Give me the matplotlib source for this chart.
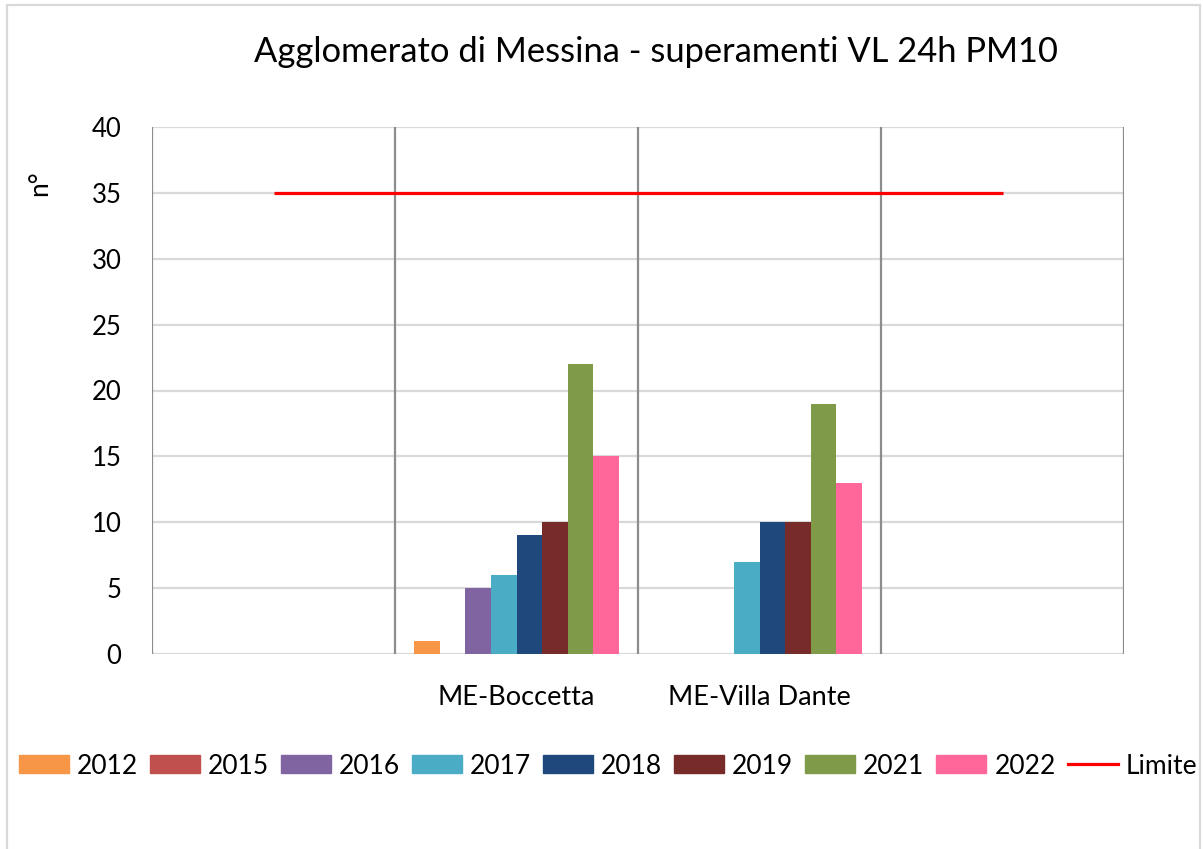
import matplotlib
matplotlib.use("Agg")
import matplotlib.pyplot as plt
import matplotlib.patches as mpatches
from matplotlib.lines import Line2D
import numpy as np

plt.rcParams['font.family'] = ['Lato', 'DejaVu Sans']

categories = ["", "ME-Boccetta", "ME-Villa Dante", ""]
years = ["2012", "2015", "2016", "2017", "2018", "2019", "2021", "2022"]
values = {
    "2012": [0, 1, 0, 0],
    "2015": [0, 0, 0, 0],
    "2016": [0, 5, 0, 0],
    "2017": [0, 6, 7, 0],
    "2018": [0, 9, 10, 0],
    "2019": [0, 10, 10, 0],
    "2021": [0, 22, 19, 0],
    "2022": [0, 15, 13, 0],
}
limite = [35, 35, 35, 35]
colors = ["#F79646", "#C0504D", "#8064A2", "#4BACC6", "#1F497D", "#772C2A", "#7F9A48", "#FF6699"]

W, H = 1203, 849
fig = plt.figure(figsize=(W / 100, H / 100), dpi=100)
ax = fig.add_axes([152 / W, 1 - 654 / H, (1124 - 152) / W, (654 - 127) / H])

x = np.arange(len(categories))
bw = 0.105
n = len(years)
for i, (yr, c) in enumerate(zip(years, colors)):
    off = (i - (n - 1) / 2) * bw
    ax.bar(x + off, values[yr], width=bw, color=c, zorder=3)
ax.plot(x, limite, color="#FF0000", lw=2.3, zorder=4, solid_capstyle='butt')

ax.set_xlim(-0.5, len(categories) - 0.5)
ax.set_ylim(0, 40)
ax.set_yticks(range(0, 41, 5))
ax.set_xticks(x)
ax.set_xticklabels(categories, fontsize=19.5)
ax.tick_params(axis='y', labelsize=18.5, length=0, pad=22)
ax.tick_params(axis='x', length=0, pad=22)
for s in ax.spines.values():
    s.set_visible(False)
ax.yaxis.grid(True, color="#D9D9D9", lw=1.6, zorder=0)
for b in np.arange(-0.5, len(categories), 1.0):
    ax.axvline(b, color="#8C8C8C", lw=1.6, zorder=2)

fig.text(656 / W, 1 - 52 / H, "Agglomerato di Messina - superamenti VL 24h PM10",
         fontsize=24.8, ha='center', va='center')
fig.text(40 / W, 1 - 183 / H, "n°", fontsize=19, rotation=90, ha='center', va='center')

handles = [mpatches.Patch(color=c) for c in colors] + [Line2D([], [], color="#FF0000", lw=2.3)]
labels = years + ["Limite"]
fig.legend(handles, labels, loc='center', bbox_to_anchor=(608 / W, 1 - 766 / H), ncol=9,
           frameon=False, fontsize=19, handlelength=1.9, handleheight=0.68,
           handletextpad=0.3, columnspacing=0.45, borderaxespad=0)

fig.patches.append(mpatches.Rectangle((7 / W, -0.01), (1200 - 7) / W, (849 - 5) / H + 0.01,
                                      transform=fig.transFigure, fill=False,
                                      edgecolor="#D9D9D9", lw=1.6))
fig.savefig("out.png", dpi=100)
